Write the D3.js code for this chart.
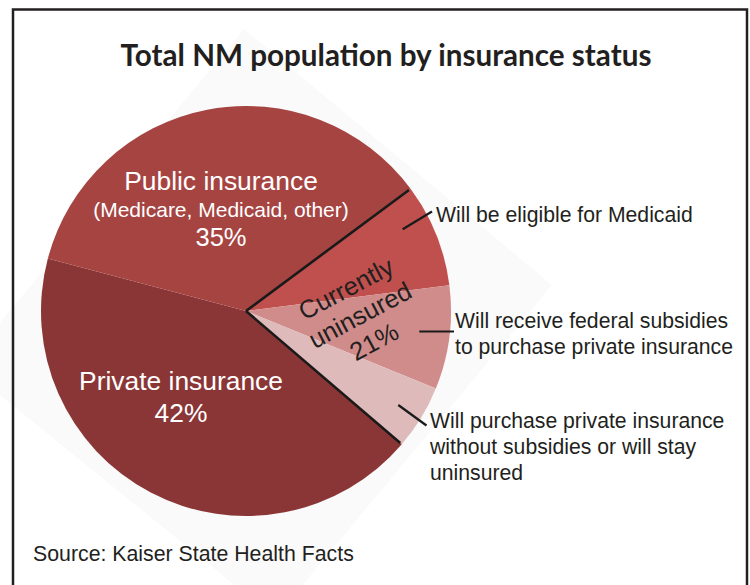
<!DOCTYPE html>
<html>
<head>
<meta charset="utf-8">
<script src="https://cdn.jsdelivr.net/npm/d3@7"></script>
<style>
  html, body { margin: 0; padding: 0; background: #fff; }
  svg { display: block; }
</style>
</head>
<body>
<svg id="chart" width="750" height="585"></svg>
<script>
// ---- data ----
const title = "Total NM population by insurance status";
const source = "Source: Kaiser State Health Facts";
const categories = [
  "Will be eligible for Medicaid",
  "Will receive federal subsidies to purchase private insurance",
  "Will purchase private insurance without subsidies or will stay uninsured",
  "Private insurance",
  "Public insurance"
];
const values = [8, 8, 5, 42, 35];
const colors = ["#c0504d", "#d08c8b", "#dfbaba", "#8b3636", "#a64442"];
const groupLabels = {
  public: ["Public insurance", "(Medicare, Medicaid, other)", "35%"],
  private: ["Private insurance", "42%"],
  uninsured: ["Currently", "uninsured", "21%"]
};
const sideLabels = [
  ["Will be eligible for Medicaid"],
  ["Will receive federal subsidies", "to purchase private insurance"],
  ["Will purchase private insurance", "without subsidies or will stay", "uninsured"]
];

// ---- layout ----
const svg = d3.select("#chart");
const cx = 246, cy = 311, R = 205;
const startDeg = 53.4;
const rad = d => d * Math.PI / 180;

// faint background diamond
svg.append("polygon")
  .attr("points", [[244,29],[552,285],[275,618],[-36,366]].map(p => p.join(",")).join(" "))
  .attr("fill", "#fafafa");

// frame
svg.append("path")
  .attr("d", "M13,600 L13,9.5 L747,9.5 L747,600")
  .attr("fill", "none").attr("stroke", "#231f20").attr("stroke-width", 2.5);

// title
const t = svg.append("text")
  .attr("x", 386).attr("y", 66)
  .attr("text-anchor", "middle")
  .attr("font-family", "Lato, 'Open Sans', sans-serif")
  .attr("font-weight", 700)
  .attr("font-size", 27)
  .attr("fill", "#231f20")
  .text(title);
const tw = t.node().getComputedTextLength();
t.attr("font-size", 27 * 531 / tw);

// pie
const pie = d3.pie().sort(null).value(d => d)
  .startAngle(rad(startDeg)).endAngle(rad(startDeg) + 2 * Math.PI);
const arcs = pie(values);
const arc = d3.arc().innerRadius(0).outerRadius(R);
const g = svg.append("g").attr("transform", `translate(${cx},${cy})`);
g.selectAll("path.slice").data(arcs).enter().append("path")
  .attr("class", "slice")
  .attr("d", arc)
  .attr("fill", (d, i) => colors[i]);

// black boundary lines of uninsured group
const edgeAngles = [arcs[0].startAngle, arcs[2].endAngle];
g.selectAll("line.edge").data(edgeAngles).enter().append("line")
  .attr("x1", 0).attr("y1", 0)
  .attr("x2", a => (R - 2) * Math.sin(a))
  .attr("y2", a => -(R - 2) * Math.cos(a))
  .attr("stroke", "#1a1a1a").attr("stroke-width", 2.6);

const font = "'Liberation Sans', Arial, sans-serif";

// public label
const pubT = svg.append("text").attr("text-anchor", "middle").attr("font-family", font).attr("fill", "#fff");
pubT.append("tspan").attr("x", 221).attr("y", 189.5).attr("font-size", 26.4).text(groupLabels.public[0]);
pubT.append("tspan").attr("x", 221).attr("y", 216.5).attr("font-size", 21).text(groupLabels.public[1]);
pubT.append("tspan").attr("x", 221).attr("y", 246).attr("font-size", 25.5).text(groupLabels.public[2]);

// private label
const privT = svg.append("text").attr("text-anchor", "middle").attr("font-family", font).attr("fill", "#fff").attr("font-size", 26.4);
privT.append("tspan").attr("x", 181).attr("y", 389.5).text(groupLabels.private[0]);
privT.append("tspan").attr("x", 181).attr("y", 421.5).text(groupLabels.private[1]);

// uninsured rotated label
const uT = svg.append("text").attr("text-anchor", "middle").attr("font-family", font)
  .attr("fill", "#231f20").attr("font-size", 25.5)
  .attr("transform", "translate(360,315) rotate(-28)");
groupLabels.uninsured.forEach((s, i) => {
  uT.append("tspan").attr("x", 0).attr("y", (i - 1) * 30 + 9).text(s);
});

// leader lines + side labels
const leaders = [
  { from: [402.7, 229.3], to: [432, 211.5], tx: 436, ty: 221.7 },
  { from: [419.3, 331.5], to: [454, 331.5], tx: 455, ty: 328.3 },
  { from: [398.3, 405], to: [426.5, 425.5], tx: 430, ty: 428.3 }
];
leaders.forEach((L, i) => {
  svg.append("line")
    .attr("x1", L.from[0]).attr("y1", L.from[1])
    .attr("x2", L.to[0]).attr("y2", L.to[1])
    .attr("stroke", "#1a1a1a").attr("stroke-width", 2.2);
  const tt = svg.append("text").attr("font-family", font).attr("font-size", 21.2).attr("fill", "#231f20");
  sideLabels[i].forEach((s, j) => {
    tt.append("tspan").attr("x", L.tx).attr("y", L.ty + j * 26).text(s);
  });
});

// source
svg.append("text").attr("x", 33).attr("y", 560.5)
  .attr("font-family", font).attr("font-size", 21.3).attr("fill", "#231f20")
  .text(source);
</script>
</body>
</html>
